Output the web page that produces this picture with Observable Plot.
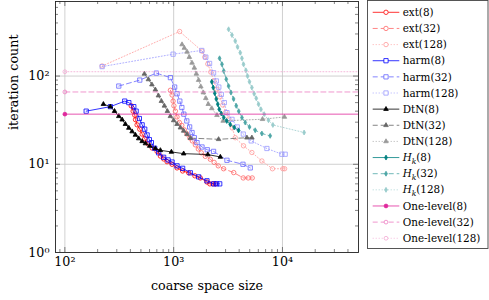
<!DOCTYPE html>
<html><head><meta charset="utf-8">
<script src="https://cdn.jsdelivr.net/npm/d3@7"></script>
<script src="https://cdn.jsdelivr.net/npm/@observablehq/plot@0.6"></script>
<style>
body{margin:0;background:#fff;}
#wrap{position:relative;width:489px;height:300px;overflow:hidden;}
#wrap svg{position:absolute;left:0;top:0;}
</style></head><body><div id="wrap"></div>
<script>
// ---- data ----
const ext8X = [407, 424, 439, 446, 461, 488, 513, 542, 583, 634, 704, 755, 810, 869, 967, 1074, 1209, 1374, 1567, 1758, 2024, 2150, 2300, 2420];
const ext8Y = [46, 40, 36, 32, 28, 25, 22, 19.5, 17, 15.3, 14, 12.4, 11.5, 10.7, 10, 9.1, 8.4, 8, 7.4, 7, 6.3, 6, 6, 6];
const ext32X = [933, 967, 988, 1005, 1037, 1074, 1127, 1188, 1253, 1321, 1408, 1485, 1582, 1685, 1795, 1954, 2172, 2355, 2570, 2877, 3565, 4360, 4842, 5272];
const ext32Y = [69, 61, 52, 46, 40, 34.4, 29.8, 27.6, 24.5, 22.1, 19.9, 18.4, 16.6, 14.9, 13.5, 12.3, 11.4, 10.5, 9.6, 8.9, 8.05, 7.0, 7, 7];
const ext128X = [220, 1135, 1822, 1932, 2059, 2193, 2337, 2490, 2652, 2826, 3011, 3207, 3455, 3681, 4385, 5236, 6471, 8091, 10090, 10470];
const ext128Y = [130, 320, 192, 164, 137, 111, 88, 71, 58, 47, 39, 32.7, 25.8, 20, 16.2, 13.6, 10.9, 8.9, 8.9, 8.9];

const harm8X = [157, 262, 355, 387, 430, 452, 484, 513, 542, 570, 598, 624, 669, 728, 809, 888, 967, 1074, 1209, 1423, 1696, 2024, 2330, 2480, 2650];
const harm8Y = [40, 45, 52, 50, 45, 40, 33, 28, 25, 21.5, 19, 17.6, 15.2, 13.5, 12, 11.2, 10.6, 9.6, 9, 8, 7.2, 6.5, 6, 6, 6];
const harm32X = [313, 488, 693, 933, 1021, 1074, 1139, 1189, 1241, 1321, 1402, 1475, 1549, 1640, 1822, 2037, 2327, 3090, 4335, 5058];
const harm32Y = [77, 90, 108, 96, 75, 63, 52, 44, 37, 31, 26.5, 22.9, 20, 17.6, 15.7, 14.6, 14, 11.1, 10, 9.1];
const harm128X = [220, 988, 1814, 1974, 2139, 2327, 2465, 2600, 2742, 2920, 3090, 3435, 3841, 4365, 5162, 7194, 9874, 10590];
const harm128Y = [128, 177, 195, 164, 139, 109, 88, 75, 62, 50, 38.5, 32.3, 26.5, 22, 18.4, 15.1, 13, 13];

const dtn8X = [226, 262, 286, 313, 336, 360, 387, 415, 445, 477, 513, 550, 602, 679, 755, 953, 1236, 2061, 2685];
const dtn8Y = [48, 45, 40, 35, 32, 28.5, 25.8, 23.5, 21.5, 19.6, 18.2, 17.2, 16.1, 15.1, 14.4, 13.8, 13.2, 12.9, 12.1];
const dtn32X = [538, 586, 631, 679, 724, 771, 822, 876, 933, 1000, 1074, 1153, 1236, 1328, 1423, 2588, 4713, 5236];
const dtn32Y = [106, 91.5, 80, 70, 60, 52, 46, 40, 35, 31.4, 28.5, 26, 23.9, 21.9, 19.8, 19.2, 20, 20];
const dtn128X = [1194, 1253, 1328, 1393, 1475, 1549, 1616, 1695, 1776, 1874, 1974, 2080, 2240, 2500, 2850, 6553, 10430];
const dtn128Y = [228, 208, 188, 164, 141, 124, 106, 90, 76, 65, 56, 48, 43, 36, 31, 32.4, 34.4];

const hk8X = [2241, 2311, 2386, 2465, 2545, 2624, 2740, 2888, 3076, 3311, 3603, 3948];
const hk8Y = [86, 74, 64, 55, 48, 42, 37.7, 34, 31, 28.3, 26.2, 24.2];
const hk32X = [2642, 2780, 2888, 3045, 3197, 3363, 3552, 3760, 3963, 4242, 4550, 4977, 5618, 6471, 7709];
const hk32Y = [159, 136, 114, 92, 77, 65, 55, 46, 40, 33.8, 29.7, 26.5, 24.3, 22.3, 21];
const hk128X = [3197, 3435, 3681, 3864, 4093, 4242, 4385, 4617, 4773, 4977, 5236, 5495, 5741, 6026, 6339, 6792, 7440, 8166, 15810];
const hk128Y = [339, 292, 250, 214, 184, 159, 136, 116, 100, 86, 74, 63, 56, 48, 42, 37, 31.6, 27.9, 22.9];

const oneLevelX = [100, 50000];
const oneLevel8Y = 37, oneLevel32Y = 66, oneLevel128Y = 112;

const xTicks = [100, 1000, 10000];
const xTickLabels = ["10\u00B2", "10\u00B3", "10\u2074"];
const yTicks = [1, 10, 100];
const yTickLabels = ["10\u2070", "10\u00B9", "10\u00B2"];
const xTitle = "coarse space size";
const yTitle = "iteration count";

// ---- styles ----
const FONT = "DejaVu Serif";
const SOLID = null, DASHED = "5,3", DOTTED = "1,2";
const C = {
  ext: ["#ff0000", "#ff6666", "#ff9999"],
  harm: ["#0000ff", "#6666ff", "#9999ff"],
  dtn: ["#000000", "#666666", "#999999"],
  hk: ["#008080", "#4da6a6", "#99cccc"],
  one: ["#e0289c", "#ec7cc2", "#f3a8d3"]
};
const DASH = [SOLID, DASHED, DOTTED];

const seriesDefs = [
  {label: "ext(8)", X: ext8X, Y: ext8Y, color: C.ext[0], dash: DASH[0], sym: "circle", fill: false, r: 2.2},
  {label: "ext(32)", X: ext32X, Y: ext32Y, color: C.ext[1], dash: DASH[1], sym: "circle", fill: false, r: 2.2},
  {label: "ext(128)", X: ext128X, Y: ext128Y, color: C.ext[2], dash: DASH[2], sym: "circle", fill: false, r: 2.2},
  {label: "harm(8)", X: harm8X, Y: harm8Y, color: C.harm[0], dash: DASH[0], sym: "square", fill: false, r: 2.4},
  {label: "harm(32)", X: harm32X, Y: harm32Y, color: C.harm[1], dash: DASH[1], sym: "square", fill: false, r: 2.4},
  {label: "harm(128)", X: harm128X, Y: harm128Y, color: C.harm[2], dash: DASH[2], sym: "square", fill: false, r: 2.4},
  {label: "DtN(8)", X: dtn8X, Y: dtn8Y, color: C.dtn[0], dash: DASH[0], sym: "triangle", fill: true, r: 1.7},
  {label: "DtN(32)", X: dtn32X, Y: dtn32Y, color: C.dtn[1], dash: DASH[1], sym: "triangle", fill: true, r: 1.7},
  {label: "DtN(128)", X: dtn128X, Y: dtn128Y, color: C.dtn[2], dash: DASH[2], sym: "triangle", fill: true, r: 1.7},
  {label: "Hk(8)", hk: "8", X: hk8X, Y: hk8Y, color: C.hk[0], dash: DASH[0], sym: "diamond", fill: true, r: 1.5},
  {label: "Hk(32)", hk: "32", X: hk32X, Y: hk32Y, color: C.hk[1], dash: DASH[1], sym: "diamond", fill: true, r: 1.5},
  {label: "Hk(128)", hk: "128", X: hk128X, Y: hk128Y, color: C.hk[2], dash: DASH[2], sym: "diamond", fill: true, r: 1.5},
  {label: "One-level(8)", X: oneLevelX, Y: [oneLevel8Y, oneLevel8Y], color: C.one[0], dash: DASH[0], sym: "circle", fill: true, r: 1.9, firstOnly: true},
  {label: "One-level(32)", X: oneLevelX, Y: [oneLevel32Y, oneLevel32Y], color: C.one[1], dash: DASH[1], sym: "circle", fill: false, r: 1.9, firstOnly: true},
  {label: "One-level(128)", X: oneLevelX, Y: [oneLevel128Y, oneLevel128Y], color: C.one[2], dash: DASH[2], sym: "circle", fill: false, r: 1.9, firstOnly: true}
];

// ---- layout ----
const W = 489, H = 300, mL = 55, mR = 131, mT = 1, mB = 48;
const plotW = W - mL - mR, plotH = H - mT - mB;
const xDomain = [82, 50000], yDomain = [1, 700];

function minorTicks(lo, hi) {
  const out = [];
  for (let e = Math.floor(Math.log10(lo)); e <= Math.ceil(Math.log10(hi)); e++)
    for (let m = 2; m <= 9; m++) { const v = m * Math.pow(10, e); if (v > lo && v < hi) out.push(v); }
  return out;
}
const xMinor = minorTicks(xDomain[0], xDomain[1]);
const yMinor = minorTicks(yDomain[0], yDomain[1]);
const xMajorIn = xTicks;
const yMajorIn = yTicks.filter(v => v > yDomain[0]);

const marks = [];
// grid
marks.push(Plot.ruleX(xTicks, {x: d => d, stroke: "#c4c4c4", strokeWidth: 0.8}));
marks.push(Plot.ruleY(yTicks.filter(v => v > yDomain[0]), {y: d => d, stroke: "#c4c4c4", strokeWidth: 0.8}));
// series
for (const s of seriesDefs) {
  const data = s.X.map((x, i) => ({x, y: s.Y[i]}));
  marks.push(Plot.line(data, {x: "x", y: "y", stroke: s.color, strokeWidth: 0.8, strokeDasharray: s.dash || undefined, clip: true}));
  marks.push(Plot.dot(s.firstOnly ? data.slice(0, 1) : data, {x: "x", y: "y", symbol: s.sym, r: s.r,
    stroke: s.color, fill: s.fill ? s.color : "none", strokeWidth: 0.8, clip: true}));
}
// ticks inside, all four sides
const TK = "#333";
marks.push(Plot.tickX(xMinor, {x: d => d, stroke: TK, strokeWidth: 0.6, insetTop: plotH - 3}));
marks.push(Plot.tickX(xMinor, {x: d => d, stroke: TK, strokeWidth: 0.6, insetBottom: plotH - 3}));
marks.push(Plot.tickX(xMajorIn, {x: d => d, stroke: TK, strokeWidth: 0.6, insetTop: plotH - 5}));
marks.push(Plot.tickX(xMajorIn, {x: d => d, stroke: TK, strokeWidth: 0.6, insetBottom: plotH - 5}));
marks.push(Plot.tickY(yMinor, {y: d => d, stroke: TK, strokeWidth: 0.6, insetRight: plotW - 3}));
marks.push(Plot.tickY(yMinor, {y: d => d, stroke: TK, strokeWidth: 0.6, insetLeft: plotW - 3}));
marks.push(Plot.tickY(yMajorIn, {y: d => d, stroke: TK, strokeWidth: 0.6, insetRight: plotW - 5}));
marks.push(Plot.tickY(yMajorIn, {y: d => d, stroke: TK, strokeWidth: 0.6, insetLeft: plotW - 5}));
marks.push(Plot.frame({stroke: "#222", strokeWidth: 0.9}));
// tick labels
marks.push(Plot.text(xTicks, {x: d => d, text: (d, i) => xTickLabels[i], frameAnchor: "bottom", lineAnchor: "top", dy: 4, fontSize: 12.7, fontFamily: FONT}));
marks.push(Plot.text(yTicks, {y: d => d, text: (d, i) => yTickLabels[i], frameAnchor: "left", textAnchor: "end", dx: -6, dy: 0, fontSize: 12.7, fontFamily: FONT}));
// axis titles
marks.push(Plot.text([xTitle], {text: d => d, frameAnchor: "bottom", lineAnchor: "top", dy: 28, fontSize: 12.7, fontFamily: FONT}));
marks.push(Plot.text([yTitle], {text: d => d, frameAnchor: "left", rotate: -90, dx: -42, dy: 3, fontSize: 12.7, fontFamily: FONT}));

const chart = Plot.plot({
  width: W, height: H,
  marginLeft: mL, marginRight: mR, marginTop: mT, marginBottom: mB,
  x: {type: "log", domain: xDomain, axis: null},
  y: {type: "log", domain: yDomain, axis: null},
  style: {background: "white", fontFamily: FONT},
  marks
});
document.getElementById("wrap").appendChild(chart);

// ---- legend ----
const lg = d3.select("#wrap").append("svg").attr("width", W).attr("height", H);
const LX = 367.5, LY = 0.5, LW = 120.5, LH = 248;
lg.append("rect").attr("x", LX).attr("y", LY).attr("width", LW).attr("height", LH)
  .attr("fill", "white").attr("stroke", "#444").attr("stroke-width", 0.9);
const symMap = {circle: d3.symbolCircle, square: d3.symbolSquare, triangle: d3.symbolTriangle, diamond: d3.symbolDiamond};
seriesDefs.forEach((s, i) => {
  const y = 12.3 + i * 16.14;
  const g = lg.append("g");
  g.append("line").attr("x1", 372.7).attr("x2", 399.3).attr("y1", y).attr("y2", y)
    .attr("stroke", s.color).attr("stroke-width", 0.8).attr("stroke-dasharray", s.dash);
  g.append("path").attr("transform", `translate(386,${y})`)
    .attr("d", d3.symbol(symMap[s.sym], Math.PI * s.r * s.r)())
    .attr("fill", s.fill ? s.color : "white").attr("stroke", s.color).attr("stroke-width", 0.8);
  const t = g.append("text").attr("x", 402.7).attr("y", y).attr("dy", "0.35em")
    .attr("font-family", FONT).attr("font-size", 10.4).attr("fill", "#000");
  if (s.hk) {
    t.append("tspan").attr("font-style", "italic").text("H");
    t.append("tspan").attr("font-style", "italic").attr("font-size", 7.5).attr("dy", 2.5).text("k");
    t.append("tspan").attr("dy", -2.5).text(`(${s.hk})`);
  } else {
    t.text(s.label);
  }
});
</script>
</body></html>
